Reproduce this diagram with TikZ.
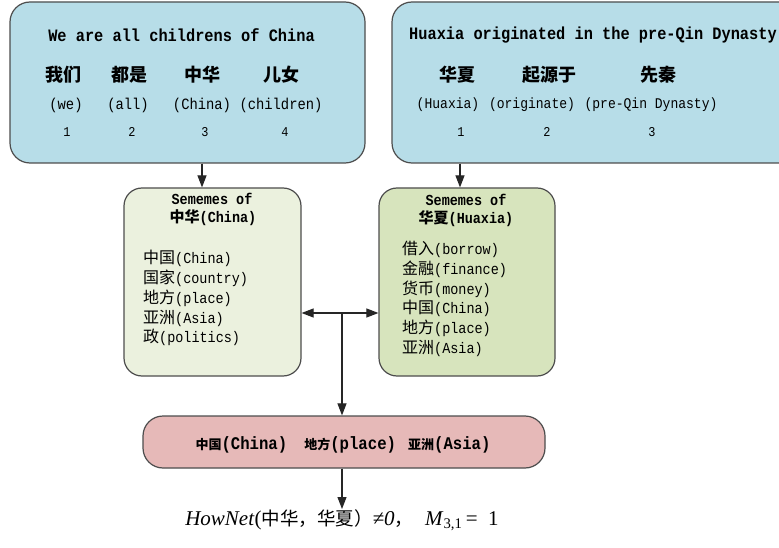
\documentclass[tikz,border=0pt]{standalone}
\usepackage{fontspec}
\setmainfont{Liberation Serif}
\setmonofont[FakeStretch=0.88]{Liberation Mono}
\newfontfamily\zh{Noto Sans CJK SC}
\usetikzlibrary{arrows.meta}
\definecolor{bluefill}{HTML}{B7DDE8}
\definecolor{palegreen}{HTML}{EBF1DE}
\definecolor{olivefill}{HTML}{D7E4BD}
\definecolor{pinkfill}{HTML}{E6B9B8}
\definecolor{edgegray}{HTML}{4D4D4D}
\newcommand\fs[2]{\fontsize{#1}{#2}\selectfont}
\newcommand\zl[1]{{\zh\fs{16}{19.8}#1}}
\newcommand\zsh[1]{{\zh\bfseries\fs{15}{16}#1}}
\newcommand\zbx[1]{{\zh\bfseries\fs{13}{15}#1}}
\newcommand\zf[1]{{\zh\fs{18.5}{22}#1}}
\begin{document}
\begin{tikzpicture}[x=1pt,y=-1pt,
  panel/.style={draw=edgegray, line width=1.2pt, rounded corners=20pt, inner sep=0pt},
  arr/.style={-{Triangle[width=9pt,length=12pt]}, line width=1.1pt, draw=black!85, fill=black!85},
  txt/.style={inner sep=0pt},
  head/.style={txt, font=\ttfamily\bfseries\fs{17.4}{20}},
  word/.style={txt, font=\zh\bfseries\fs{18}{20}},
  glossa/.style={txt, font=\ttfamily\fs{15.7}{18}},
  glossb/.style={txt, font=\ttfamily\fs{14.8}{18}},
  num/.style={txt, font=\ttfamily\fs{13.5}{15}},
  subhead/.style={txt, font=\ttfamily\bfseries\fs{15.3}{17}},
  list/.style={txt, anchor=north west, align=left, font=\ttfamily\fs{15.3}{19.8}}]
\useasboundingbox (0,0) rectangle (779,548);
\fill[white] (0,0) rectangle (779,548);

% panels
\node[panel, fill=bluefill, minimum width=355pt, minimum height=161pt] (s1) at (187.5,82.5) {};
\node[panel, fill=bluefill, minimum width=408pt, minimum height=161pt] (s2) at (596,82.5) {};
\node[panel, fill=palegreen, rounded corners=18pt, minimum width=177pt, minimum height=188pt] (s3) at (212.5,282) {};
\node[panel, fill=olivefill, rounded corners=18pt, minimum width=176pt, minimum height=188pt] (s4) at (467,282) {};
\node[panel, fill=pinkfill, minimum width=402pt, minimum height=52pt] (s5) at (344,442) {};

% sentence 1
\node[head] (h1) at (181.5,35) {We are all childrens of China};
\node[word] (w11) at (63,75) {我们};
\node[word] (w12) at (129,75) {都是};
\node[word] (w13) at (202,75) {中华};
\node[word] (w14) at (281,75) {儿女};
\node[glossa] (g11) at (66,105) {(we)};
\node[glossa] (g12) at (128,105) {(all)};
\node[glossa] (g13) at (202,105) {(China)};
\node[glossa] (g14) at (281,105) {(children)};
\node[num] (n11) at (67,132) {1};
\node[num] (n12) at (132,132) {2};
\node[num] (n13) at (205,132) {3};
\node[num] (n14) at (285,132) {4};

% sentence 2
\node[head, anchor=west] (h2) at (409,35) {Huaxia originated in the pre-Qin Dynasty};
\node[word] (w21) at (457,75) {华夏};
\node[word] (w22) at (549,75) {起源于};
\node[word] (w23) at (658,75) {先秦};
\node[glossb] (g21) at (448,105) {(Huaxia)};
\node[glossb] (g22) at (532,105) {(originate)};
\node[glossb] (g23) at (651,105) {(pre-Qin Dynasty)};
\node[num] (n21) at (461,132) {1};
\node[num] (n22) at (547,132) {2};
\node[num] (n23) at (652,132) {3};

% sememe boxes
\node[subhead] (sh1) at (212,199) {Sememes of};
\node[subhead] (sh2) at (213,218) {\zsh{中华}(China)};
\node[list] (l1) at (143,250) {\zl{中国}(China)\\\zl{国家}(country)\\\zl{地方}(place)\\\zl{亚洲}(Asia)\\\zl{政}(politics)};

\node[subhead] (sh3) at (466,200) {Sememes of};
\node[subhead] (sh4) at (466,219) {\zsh{华夏}(Huaxia)};
\node[list] (l2) at (402,241) {\zl{借入}(borrow)\\\zl{金融}(finance)\\\zl{货币}(money)\\\zl{中国}(China)\\\zl{地方}(place)\\\zl{亚洲}(Asia)};

% common sememes
\node[txt, font=\ttfamily\bfseries\fs{17.8}{19}] (c5) at (343,445) {\zbx{中国}(China)\hspace{17pt}\zbx{地方}(place)\hspace{12pt}\zbx{亚洲}(Asia)};

% formula
\node[txt, anchor=north, font=\fs{21}{24}] (f) at (342,509) {\textit{HowNet}(\zf{中华，华夏）}\textit{≠0}\zf{，}\hspace{12pt}\textit{M}\textsubscript{3,1}\,=\enspace1};

% connectors
\coordinate (xa) at (202,0);
\coordinate (xb) at (460,0);
\coordinate (hm) at (342,313);
\draw[arr] (xa |- s1.south) -- (xa |- s3.north);
\draw[arr] (xb |- s2.south) -- (xb |- s4.north);
\draw[arr] (hm) -- (hm -| s3.east);
\draw[arr] (hm) -- (hm -| s4.west);
\draw[arr] (hm) -- (hm |- s5.north);
\draw[arr] (s5.south -| hm) -- (hm |- f.north);
\end{tikzpicture}
\end{document}
